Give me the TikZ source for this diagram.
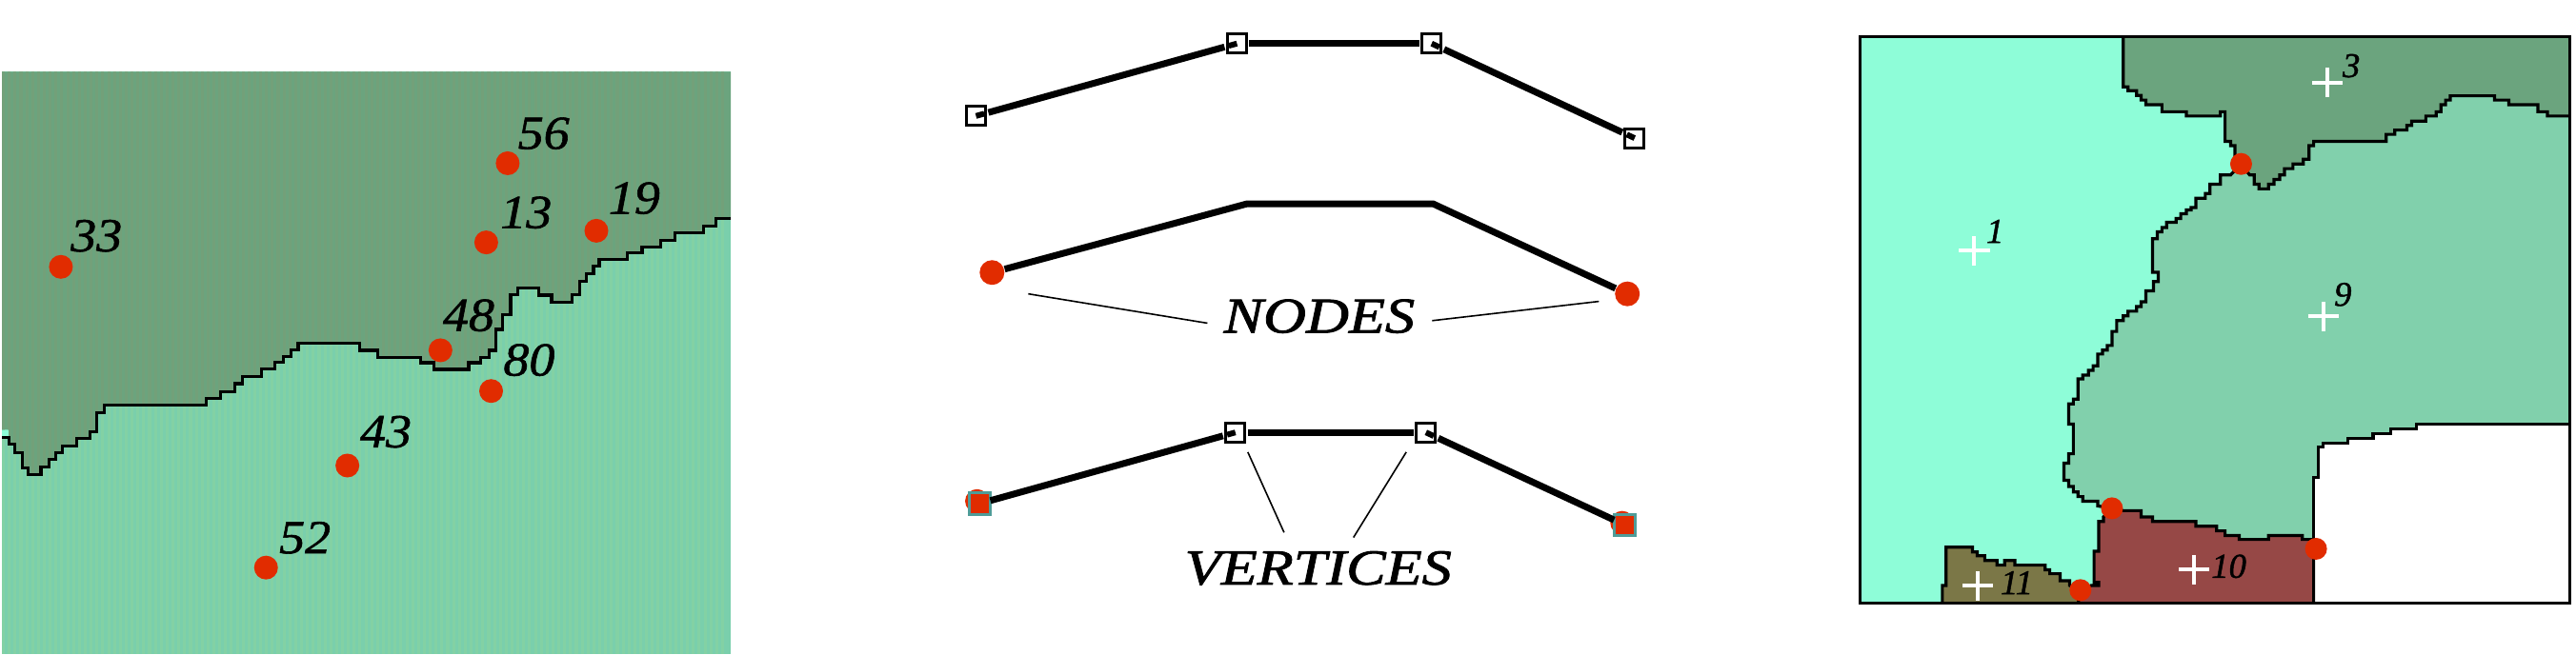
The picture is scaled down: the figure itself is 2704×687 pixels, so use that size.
\documentclass[tikz,border=0pt]{standalone}
\usepackage{fontspec}
\usetikzlibrary{calc}
\newfontfamily\capfont{Liberation Serif Italic}[FakeStretch=1.18,FakeBold=1.6]
\newfontfamily\bigfont{Liberation Serif Italic}[FakeStretch=1.08,FakeBold=1.2]
\newfontfamily\smallfont{Liberation Serif Italic}[FakeBold=1.2]
\definecolor{mapdark}{HTML}{6BA47E}
\definecolor{mapdarkb}{HTML}{73A079}
\definecolor{maplight}{HTML}{7ACFAC}
\definecolor{maplightb}{HTML}{83D1A4}
\definecolor{aqua}{HTML}{8EFDD8}
\definecolor{seagreen}{HTML}{81D0AC}
\definecolor{brick}{HTML}{964846}
\definecolor{olive}{HTML}{7B7747}
\definecolor{dotred}{HTML}{E12C00}
\definecolor{teal}{HTML}{4F9C98}
\newcommand{\darkmap}{(4,62) -- (1500,62) -- (1500,440) -- (1470,440) -- (1470,460) -- (1444,460) -- (1444,478) -- (1386,478) -- (1386,496) -- (1356,496) -- (1356,514) -- (1318,514) -- (1318,528) -- (1288,528) -- (1288,546) -- (1230,546) -- (1230,564) -- (1218,564) -- (1218,582) -- (1204,582) -- (1204,602) -- (1190,602) -- (1190,636) -- (1174,636) -- (1174,656) -- (1132,656) -- (1132,638) -- (1105,638) -- (1105,620) -- (1062,620) -- (1062,636) -- (1048,636) -- (1048,688) -- (1032,688) -- (1032,726) -- (1018,726) -- (1018,780) -- (1004,780) -- (1004,798) -- (986,798) -- (986,812) -- (962,812) -- (962,829) -- (890,829) -- (890,812) -- (864,812) -- (864,798) -- (776,798) -- (776,780) -- (738,780) -- (738,762) -- (612,762) -- (612,778) -- (598,778) -- (598,796) -- (582,796) -- (582,810) -- (564,810) -- (564,828) -- (536,828) -- (536,848) -- (498,848) -- (498,866) -- (482,866) -- (482,886) -- (452,886) -- (452,904) -- (424,904) -- (424,922) -- (214,922) -- (214,940) -- (198,940) -- (198,990) -- (184,990) -- (184,1008) -- (158,1008) -- (158,1026) -- (128,1026) -- (128,1044) -- (114,1044) -- (114,1062) -- (100,1062) -- (100,1080) -- (84,1080) -- (84,1100) -- (58,1100) -- (58,1083) -- (46,1083) -- (46,1044) -- (30,1044) -- (30,1022) -- (18,1022) -- (18,985) -- (4,985) -- cycle}
\tikzset{
  reddot/.style={circle,fill=dotred,draw=none,minimum size=0.25cm,inner sep=0pt},
  border/.style={line width=0.032cm,black,line join=miter},
  biglabel/.style={font=\bigfont\fontsize{14.2}{16}\selectfont,inner sep=0pt,yshift=0.02cm},
  smalllabel/.style={font=\smallfont\fontsize{10.4}{12}\selectfont,inner sep=0pt},
  caplabel/.style={font=\capfont\fontsize{15}{17}\selectfont,inner sep=0pt,yshift=0.02cm},
  vbox/.style={rectangle,draw=black,fill=white,line width=0.03cm,minimum size=0.2cm,inner sep=0pt,outer sep=0.03cm},
  rbox/.style={rectangle,draw=teal,fill=dotred,line width=0.03cm,minimum size=0.225cm,inner sep=0pt,outer sep=0pt},
  wire/.style={line width=0.07cm,black,line join=miter},
  stub/.style={line width=0.06cm,black},
  leader/.style={line width=0.016cm,black},
  plus/.style={line width=0.04cm,white},
}
\begin{document}
\begin{tikzpicture}[x=0.01cm,y=0.01cm]
\useasboundingbox (0,0) rectangle (2704,687);
\fill[white] (0,0) rectangle (2704,687);
% ---------- left panel, coordinates as read from the crop
\begin{scope}[shift={(0,637)},x=0.00511cm,y=-0.004068cm]
  \fill[maplight] (4,62) rectangle (1500,1562);
  \foreach \sx in {4,16,...,1490}{
    \fill[maplightb] (\sx,62) rectangle ++(6,1500);
  }
  \fill[aqua] (4,985) rectangle (18,1005);
  \fill[mapdark] \darkmap;
  \begin{scope}
    \clip \darkmap;
    \foreach \sx in {4,16,...,1490}{
      \fill[mapdarkb] (\sx,62) rectangle ++(6,1050);
    }
  \end{scope}
  \draw[border] (4,1005) -- (18,1005) -- (18,1022) -- (30,1022) -- (30,1044) -- (46,1044) -- (46,1083) -- (58,1083) -- (58,1100) -- (84,1100) -- (84,1080) -- (100,1080) -- (100,1062) -- (114,1062) -- (114,1044) -- (128,1044) -- (128,1026) -- (158,1026) -- (158,1008) -- (184,1008) -- (184,990) -- (198,990) -- (198,940) -- (214,940) -- (214,922) -- (424,922) -- (424,904) -- (452,904) -- (452,886) -- (482,886) -- (482,866) -- (498,866) -- (498,848) -- (536,848) -- (536,828) -- (564,828) -- (564,810) -- (582,810) -- (582,796) -- (598,796) -- (598,778) -- (612,778) -- (612,762) -- (738,762) -- (738,780) -- (776,780) -- (776,798) -- (864,798) -- (864,812) -- (890,812) -- (890,829) -- (962,829) -- (962,812) -- (986,812) -- (986,798) -- (1004,798) -- (1004,780) -- (1018,780) -- (1018,726) -- (1032,726) -- (1032,688) -- (1048,688) -- (1048,636) -- (1062,636) -- (1062,620) -- (1105,620) -- (1105,638) -- (1132,638) -- (1132,656) -- (1174,656) -- (1174,636) -- (1190,636) -- (1190,602) -- (1204,602) -- (1204,582) -- (1218,582) -- (1218,564) -- (1230,564) -- (1230,546) -- (1288,546) -- (1288,528) -- (1318,528) -- (1318,514) -- (1356,514) -- (1356,496) -- (1386,496) -- (1386,478) -- (1444,478) -- (1444,460) -- (1470,460) -- (1470,440) -- (1500,440);
  \node[reddot] (d56) at (1042,298) {};
  \node[reddot] (d13) at (998,502) {};
  \node[reddot] (d19) at (1224,472) {};
  \node[reddot] (d33) at (125,565) {};
  \node[reddot] (d48) at (904,780) {};
  \node[reddot] (d80) at (1008,885) {};
  \node[reddot] (d43) at (713,1077) {};
  \node[reddot] (d52) at (546,1340) {};
  \node[biglabel] (l56) at (1116,226) {56};
  \node[biglabel] (l13) at (1080,430) {13};
  \node[biglabel] (l19) at (1302,393) {19};
  \node[biglabel] (l33) at (198,490) {33};
  \node[biglabel] (l48) at (962,695) {48};
  \node[biglabel] (l80) at (1086,810) {80};
  \node[biglabel] (l43) at (792,995) {43};
  \node[biglabel] (l52) at (626,1268) {52};
\end{scope}
% ---------- middle panel
\begin{scope}[shift={(950,687)},x=0.00543cm,y=-0.004387cm]
  % top line
  \node[vbox] (a1) at (137,277) {};
  \node[vbox] (a2) at (641,104) {};
  \node[vbox] (a3) at (1017,104) {};
  \node[vbox] (a4) at (1409,330) {};
  \draw[wire] (a1) -- (a2);
  \draw[wire] (a2) -- (a3);
  \draw[wire] (a3) -- (a4);
  \draw[stub] (a1.center) -- ($(a1.center)!0.09cm!(a2)$);
  \draw[stub] (a2.center) -- ($(a2.center)!0.09cm!(a1)$);
  \draw[stub] (a3.center) -- ($(a3.center)!0.09cm!(a4)$);
  \draw[stub] (a4.center) -- ($(a4.center)!0.09cm!(a3)$);
  % middle line
  \coordinate (b2) at (660,487);
  \coordinate (b3) at (1020,487);
  \node[reddot,minimum size=0.26cm] (b1) at (168,651) {};
  \node[reddot,minimum size=0.26cm] (b4) at (1395,702) {};
  \draw[wire] (b1) -- (b2) -- (b3) -- (b4);
  \node[caplabel] (nodes) at (800,760) {NODES};
  \coordinate (n1) at (238,702);
  \coordinate (n2) at (584,772);
  \coordinate (n3) at (1018,766);
  \coordinate (n4) at (1340,720);
  \draw[leader] (n1) -- (n2);
  \draw[leader] (n3) -- (n4);
  % bottom line
  \node[reddot] (c1r) at (139,1197) {};
  \node[reddot] (c4r) at (1385,1249) {};
  \node[rbox] (c1) at (144,1203) {};
  \node[vbox] (c2) at (638,1033) {};
  \node[vbox] (c3) at (1006,1033) {};
  \node[rbox] (c4) at (1390,1254) {};
  \draw[wire] (c1) -- (c2);
  \draw[wire] (c2) -- (c3);
  \draw[wire] (c3) -- (c4);
  \draw[stub] (c2.center) -- ($(c2.center)!0.09cm!(c1)$);
  \draw[stub] (c3.center) -- ($(c3.center)!0.09cm!(c4)$);
  \node[caplabel] (verts) at (798,1362) {VERTICES};
  \coordinate (v1) at (662,1080);
  \coordinate (v2) at (732,1272);
  \coordinate (v3) at (968,1080);
  \coordinate (v4) at (866,1284);
  \draw[leader] (v1) -- (v2);
  \draw[leader] (v3) -- (v4);
\end{scope}
% ---------- right panel
\begin{scope}[shift={(1930,667)},x=0.004946cm,y=-0.004087cm]
  \fill[aqua] (46,46) rectangle (1552,1500);
  \fill[white] (1008,1040) rectangle (1552,1500);
  % region 9
  \fill[seagreen] (854,372) -- (872,400) -- (882,400) -- (882,424) -- (892,424) -- (892,436) -- (912,436) -- (912,424) -- (924,424) -- (924,412) -- (936,412) -- (936,400) -- (946,400) -- (946,384) -- (964,384) -- (964,372) -- (986,372) -- (986,360) -- (998,360) -- (998,325) -- (1008,325) -- (1008,314) -- (1162,314) -- (1162,296) -- (1180,296) -- (1180,285) -- (1206,285) -- (1206,273) -- (1216,273) -- (1216,262) -- (1246,262) -- (1246,249) -- (1268,249) -- (1268,238) -- (1278,238) -- (1278,220) -- (1288,220) -- (1288,208) -- (1298,208) -- (1298,197) -- (1392,197) -- (1392,208) -- (1422,208) -- (1422,220) -- (1484,220) -- (1484,238) -- (1504,238) -- (1504,249) -- (1552,249) -- (1552,1040) -- (1226,1040) -- (1226,1052) -- (1172,1052) -- (1172,1064) -- (1134,1064) -- (1134,1076) -- (1080,1076) -- (1080,1088) -- (1028,1088) -- (1028,1098) -- (1018,1098) -- (1018,1176) -- (1008,1176) -- (1008,1336) -- (984,1336) -- (984,1326) -- (912,1326) -- (912,1336) -- (850,1336) -- (850,1326) -- (820,1326) -- (820,1314) -- (802,1314) -- (802,1302) -- (758,1302) -- (758,1290) -- (666,1290) -- (666,1278) -- (642,1278) -- (642,1262) -- (604,1262) -- (580,1256) -- (550,1250) -- (550,1238) -- (518,1238) -- (518,1226) -- (508,1226) -- (508,1214) -- (498,1214) -- (498,1200) -- (488,1200) -- (488,1184) -- (478,1184) -- (478,1140) -- (488,1140) -- (488,1116) -- (498,1116) -- (498,1040) -- (488,1040) -- (488,988) -- (498,988) -- (498,976) -- (508,976) -- (508,924) -- (518,924) -- (518,914) -- (530,914) -- (530,902) -- (540,902) -- (540,890) -- (550,890) -- (550,860) -- (560,860) -- (560,850) -- (570,850) -- (570,838) -- (580,838) -- (580,802) -- (590,802) -- (590,774) -- (604,774) -- (604,762) -- (614,762) -- (614,750) -- (632,750) -- (632,738) -- (642,738) -- (642,726) -- (652,726) -- (652,698) -- (668,698) -- (668,674) -- (678,674) -- (678,650) -- (666,650) -- (666,564) -- (676,564) -- (676,546) -- (686,546) -- (686,535) -- (696,535) -- (696,522) -- (716,522) -- (716,512) -- (726,512) -- (726,500) -- (738,500) -- (738,490) -- (748,490) -- (748,484) -- (758,484) -- (758,460) -- (778,460) -- (778,448) -- (788,448) -- (788,424) -- (810,424) -- (810,400) -- (832,400) -- cycle;
  % region 3
  \fill[mapdark] (604,46) -- (604,174) -- (614,174) -- (614,184) -- (632,184) -- (632,196) -- (642,196) -- (642,208) -- (652,208) -- (652,220) -- (686,220) -- (686,238) -- (738,238) -- (738,249) -- (810,249) -- (810,238) -- (820,238) -- (820,314) -- (832,314) -- (832,325) -- (841,325) -- (841,372) -- (854,372) -- (872,400) -- (882,400) -- (882,424) -- (892,424) -- (892,436) -- (912,436) -- (912,424) -- (924,424) -- (924,412) -- (936,412) -- (936,400) -- (946,400) -- (946,384) -- (964,384) -- (964,372) -- (986,372) -- (986,360) -- (998,360) -- (998,325) -- (1008,325) -- (1008,314) -- (1162,314) -- (1162,296) -- (1180,296) -- (1180,285) -- (1206,285) -- (1206,273) -- (1216,273) -- (1216,262) -- (1246,262) -- (1246,249) -- (1268,249) -- (1268,238) -- (1278,238) -- (1278,220) -- (1288,220) -- (1288,208) -- (1298,208) -- (1298,197) -- (1392,197) -- (1392,208) -- (1422,208) -- (1422,220) -- (1484,220) -- (1484,238) -- (1504,238) -- (1504,249) -- (1552,249) -- (1552,46) -- cycle;
  % region 10
  \fill[brick] (580,1256) -- (604,1262) -- (642,1262) -- (642,1278) -- (666,1278) -- (666,1290) -- (758,1290) -- (758,1302) -- (802,1302) -- (802,1314) -- (820,1314) -- (820,1326) -- (850,1326) -- (850,1336) -- (912,1336) -- (912,1326) -- (984,1326) -- (984,1336) -- (1008,1336) -- (1008,1500) -- (508,1500) -- (514,1466) -- (536,1454) -- (552,1454) -- (552,1446) -- (542,1446) -- (542,1366) -- (552,1366) -- (552,1290) -- (562,1290) -- (562,1278) -- cycle;
  % region 11
  \fill[olive] (220,1500) -- (220,1454) -- (228,1454) -- (228,1356) -- (284,1356) -- (284,1368) -- (294,1368) -- (294,1378) -- (310,1378) -- (310,1390) -- (336,1390) -- (336,1402) -- (352,1402) -- (352,1390) -- (374,1390) -- (374,1402) -- (438,1402) -- (438,1414) -- (448,1414) -- (448,1424) -- (470,1424) -- (470,1442) -- (490,1442) -- (490,1454) -- (514,1466) -- (508,1500) -- cycle;
  % region borders
  \draw[border] (604,46) -- (604,174) -- (614,174) -- (614,184) -- (632,184) -- (632,196) -- (642,196) -- (642,208) -- (652,208) -- (652,220) -- (686,220) -- (686,238) -- (738,238) -- (738,249) -- (810,249) -- (810,238) -- (820,238) -- (820,314) -- (832,314) -- (832,325) -- (841,325) -- (841,372) -- (854,372) -- (872,400) -- (882,400) -- (882,424) -- (892,424) -- (892,436) -- (912,436) -- (912,424) -- (924,424) -- (924,412) -- (936,412) -- (936,400) -- (946,400) -- (946,384) -- (964,384) -- (964,372) -- (986,372) -- (986,360) -- (998,360) -- (998,325) -- (1008,325) -- (1008,314) -- (1162,314) -- (1162,296) -- (1180,296) -- (1180,285) -- (1206,285) -- (1206,273) -- (1216,273) -- (1216,262) -- (1246,262) -- (1246,249) -- (1268,249) -- (1268,238) -- (1278,238) -- (1278,220) -- (1288,220) -- (1288,208) -- (1298,208) -- (1298,197) -- (1392,197) -- (1392,208) -- (1422,208) -- (1422,220) -- (1484,220) -- (1484,238) -- (1504,238) -- (1504,249) -- (1552,249);
  \draw[border] (854,372) -- (832,400) -- (810,400) -- (810,424) -- (788,424) -- (788,448) -- (778,448) -- (778,460) -- (758,460) -- (758,484) -- (748,484) -- (748,490) -- (738,490) -- (738,500) -- (726,500) -- (726,512) -- (716,512) -- (716,522) -- (696,522) -- (696,535) -- (686,535) -- (686,546) -- (676,546) -- (676,564) -- (666,564) -- (666,650) -- (678,650) -- (678,674) -- (668,674) -- (668,698) -- (652,698) -- (652,726) -- (642,726) -- (642,738) -- (632,738) -- (632,750) -- (614,750) -- (614,762) -- (604,762) -- (604,774) -- (590,774) -- (590,802) -- (580,802) -- (580,838) -- (570,838) -- (570,850) -- (560,850) -- (560,860) -- (550,860) -- (550,890) -- (540,890) -- (540,902) -- (530,902) -- (530,914) -- (518,914) -- (518,924) -- (508,924) -- (508,976) -- (498,976) -- (498,988) -- (488,988) -- (488,1040) -- (498,1040) -- (498,1116) -- (488,1116) -- (488,1140) -- (478,1140) -- (478,1184) -- (488,1184) -- (488,1200) -- (498,1200) -- (498,1214) -- (508,1214) -- (508,1226) -- (518,1226) -- (518,1238) -- (550,1238) -- (550,1250) -- (580,1256) -- (604,1262) -- (642,1262) -- (642,1278) -- (666,1278) -- (666,1290) -- (758,1290) -- (758,1302) -- (802,1302) -- (802,1314) -- (820,1314) -- (820,1326) -- (850,1326) -- (850,1336) -- (912,1336) -- (912,1326) -- (984,1326) -- (984,1336) -- (1008,1336) -- (1008,1500);
  \draw[border] (1552,1040) -- (1226,1040) -- (1226,1052) -- (1172,1052) -- (1172,1064) -- (1134,1064) -- (1134,1076) -- (1080,1076) -- (1080,1088) -- (1028,1088) -- (1028,1098) -- (1018,1098) -- (1018,1176) -- (1008,1176) -- (1008,1336);
  \draw[border] (580,1256) -- (562,1278) -- (562,1290) -- (552,1290) -- (552,1366) -- (542,1366) -- (542,1446) -- (552,1446) -- (552,1454) -- (536,1454) -- (514,1466);
  \draw[border] (220,1500) -- (220,1454) -- (228,1454) -- (228,1356) -- (284,1356) -- (284,1368) -- (294,1368) -- (294,1378) -- (310,1378) -- (310,1390) -- (336,1390) -- (336,1402) -- (352,1402) -- (352,1390) -- (374,1390) -- (374,1402) -- (438,1402) -- (438,1414) -- (448,1414) -- (448,1424) -- (470,1424) -- (470,1442) -- (490,1442) -- (490,1454) -- (514,1466) -- (508,1500);
  \draw[border] (46,46) rectangle (1552,1500);
  \node[reddot,minimum size=0.23cm] (r1) at (854,372) {};
  \node[reddot,minimum size=0.23cm] (r2) at (580,1256) {};
  \node[reddot,minimum size=0.23cm] (r3) at (1013,1360) {};
  \node[reddot,minimum size=0.23cm] (r4) at (513,1466) {};
  \foreach \px/\py in {1038/163,288/595,1028/763,754/1413,296/1455}{
    \draw[plus] (\px,\py) ++(-0.16cm,0) -- ++(0.32cm,0);
    \draw[plus] (\px,\py) ++(0,-0.155cm) -- ++(0,0.31cm);
  }
  \node[smalllabel] (t3) at (1088,120) {3};
  \node[smalllabel] (t1) at (332,545) {1};
  \node[smalllabel] (t9) at (1070,707) {9};
  \node[smalllabel] (t10) at (828,1405) {10};
  \node[smalllabel] (t11) at (378,1447) {11};
\end{scope}
\end{tikzpicture}
\end{document}
